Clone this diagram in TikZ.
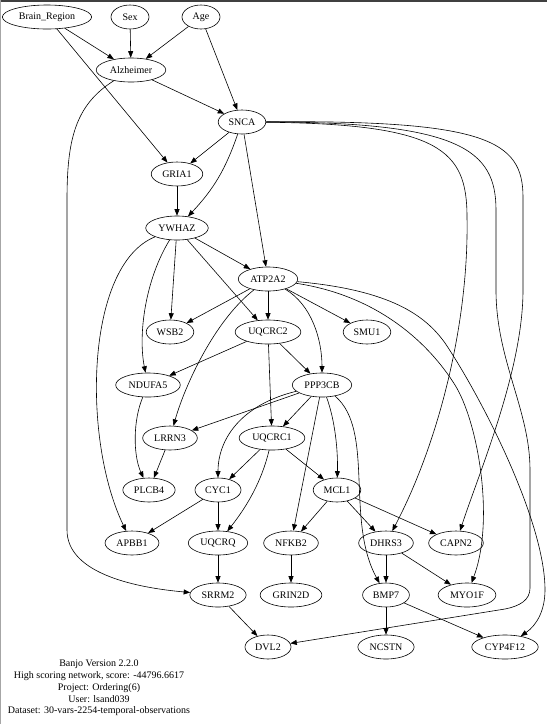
\documentclass[tikz,border=0pt]{standalone}
\usepackage{fontspec}
\setmainfont{Liberation Serif}
\usetikzlibrary{arrows.meta,shapes.geometric}

\begin{document}
\begin{tikzpicture}[
  x=1pt, y=-1pt,
  varnode/.style={draw, ellipse, line width=0.6pt, inner xsep=3.5pt, inner ysep=0pt,
                  minimum width=38pt, minimum height=24pt,
                  font=\fontsize{10}{12}\selectfont},
  link/.style={draw, line width=0.6pt, -{Triangle[length=6.5pt,width=5pt]}},
]
  \useasboundingbox (0,0) rectangle (547,724);
  % screenshot edges
  \draw[line width=1.5pt, black!75] (0,0.75) -- (547,0.75);
  \draw[line width=1pt, black!35] (0.5,0) -- (0.5,724);

  % Variables, row by row
  \node[varnode] (brain) at (47,17) {Brain\_Region};
  \node[varnode] (sex) at (130,17) {Sex};
  \node[varnode] (age) at (201,17) {Age};
  \node[varnode] (alz) at (131,70) {Alzheimer};
  \node[varnode] (snca) at (242,122) {SNCA};
  \node[varnode] (gria1) at (177,174) {GRIA1};
  \node[varnode] (ywhaz) at (177,228) {YWHAZ};
  \node[varnode] (atp2a2) at (268,279) {ATP2A2};
  \node[varnode] (wsb2) at (170,332) {WSB2};
  \node[varnode] (uqcrc2) at (268,332) {UQCRC2};
  \node[varnode] (smu1) at (367,332) {SMU1};
  \node[varnode] (ndufa5) at (148,385) {NDUFA5};
  \node[varnode] (ppp3cb) at (322,385) {PPP3CB};
  \node[varnode] (lrrn3) at (170,438) {LRRN3};
  \node[varnode] (uqcrc1) at (272,438) {UQCRC1};
  \node[varnode] (plcb4) at (149,490) {PLCB4};
  \node[varnode] (cyc1) at (218,490) {CYC1};
  \node[varnode] (mcl1) at (337,490) {MCL1};
  \node[varnode] (apbb1) at (132,543) {APBB1};
  \node[varnode] (uqcrq) at (218,543) {UQCRQ};
  \node[varnode] (nfkb2) at (291,543) {NFKB2};
  \node[varnode] (dhrs3) at (386,543) {DHRS3};
  \node[varnode] (capn2) at (456,543) {CAPN2};
  \node[varnode] (srrm2) at (218,595) {SRRM2};
  \node[varnode] (grin2d) at (291,595) {GRIN2D};
  \node[varnode] (bmp7) at (386,595) {BMP7};
  \node[varnode] (myo1f) at (467,595) {MYO1F};
  \node[varnode] (dvl2) at (268,647) {DVL2};
  \node[varnode] (ncstn) at (386,647) {NCSTN};
  \node[varnode] (cyp4f12) at (505,647) {CYP4F12};

  % Run information
  \node[font=\fontsize{10}{11.8}\selectfont, align=center] (info) at (99,688)
    {Banjo Version 2.2.0\\High scoring network, score: -44796.6617\\Project: Ordering(6)\\User: lsand039\\Dataset: 30-vars-2254-temporal-observations};

  % Edges: top rows
  \draw[link] (brain) -- (alz);
  \draw[link] (sex) -- (alz);
  \draw[link] (age) -- (alz);
  \draw[link] (brain) -- (gria1);
  \draw[link] (age) -- (snca);
  \draw[link] (alz) -- (snca);
  \draw[link] (alz) .. controls (75,105) and (67,140) .. (67,200) -- (67,530)
    .. controls (67,575) and (140,588) .. (srrm2);
  \draw[link] (snca) -- (gria1);
  \draw[link] (snca) to[bend left=12] (ywhaz);
  \draw[link] (snca) -- (atp2a2);
  \draw[link] (gria1) -- (ywhaz);

  % Edges: long ones on the right
  \draw[link] (snca) .. controls (440,124) and (467,150) .. (467,217)
    .. controls (469,320) and (440,440) .. (dhrs3);
  \draw[link] (snca) .. controls (460,122) and (496,150) .. (496,210) -- (496,290)
    .. controls (496,360) and (530,410) .. (530,470) -- (530,588)
    .. controls (530,600) and (520,606) .. (505,609) -- (dvl2);
  \draw[link] (snca) .. controls (485,120) and (523,140) .. (523,197) -- (523,290)
    .. controls (523,370) and (480,470) .. (capn2);
  \draw[link] (atp2a2) .. controls (380,296) and (430,345) .. (455,385)
    .. controls (478,422) and (495,520) .. (myo1f);
  \draw[link] (atp2a2) .. controls (390,290) and (425,315) .. (445,343)
    .. controls (480,395) and (545,520) .. (545,590)
    .. controls (545,610) and (537,625) .. (cyp4f12);

  % Edges: YWHAZ and ATP2A2
  \draw[link] (ywhaz) -- (atp2a2);
  \draw[link] (ywhaz) -- (wsb2);
  \draw[link] (ywhaz) -- (uqcrc2);
  \draw[link] (ywhaz) .. controls (145,280) and (138,335) .. (ndufa5);
  \draw[link] (ywhaz) .. controls (85,265) and (82,440) .. (apbb1);
  \draw[link] (atp2a2) -- (wsb2);
  \draw[link] (atp2a2) -- (uqcrc2);
  \draw[link] (atp2a2) -- (smu1);
  \draw[link] (atp2a2) .. controls (312,305) and (322,340) .. (ppp3cb);
  \draw[link] (atp2a2) .. controls (215,320) and (185,385) .. (lrrn3);

  % Edges: middle
  \draw[link] (uqcrc2) -- (ndufa5);
  \draw[link] (uqcrc2) -- (ppp3cb);
  \draw[link] (uqcrc2) -- (uqcrc1);
  \draw[link] (ndufa5) .. controls (133,420) and (133,455) .. (plcb4);
  \draw[link] (ppp3cb) -- (lrrn3);
  \draw[link] (ppp3cb) -- (uqcrc1);
  \draw[link] (ppp3cb) .. controls (240,405) and (218,440) .. (cyc1);
  \draw[link] (ppp3cb) -- (nfkb2);
  \draw[link] (ppp3cb) .. controls (335,420) and (338,450) .. (mcl1);
  \draw[link] (ppp3cb) .. controls (375,430) and (345,520) .. (bmp7);
  \draw[link] (lrrn3) -- (plcb4);
  \draw[link] (uqcrc1) -- (cyc1);
  \draw[link] (uqcrc1) -- (mcl1);
  \draw[link] (uqcrc1) .. controls (262,480) and (248,505) .. (uqcrq);

  % Edges: bottom rows
  \draw[link] (cyc1) -- (apbb1);
  \draw[link] (cyc1) -- (uqcrq);
  \draw[link] (mcl1) -- (nfkb2);
  \draw[link] (mcl1) -- (dhrs3);
  \draw[link] (mcl1) -- (capn2);
  \draw[link] (uqcrq) -- (srrm2);
  \draw[link] (nfkb2) -- (grin2d);
  \draw[link] (dhrs3) -- (bmp7);
  \draw[link] (dhrs3) -- (myo1f);
  \draw[link] (srrm2) -- (dvl2);
  \draw[link] (bmp7) -- (ncstn);
  \draw[link] (bmp7) -- (cyp4f12);
\end{tikzpicture}
\end{document}
